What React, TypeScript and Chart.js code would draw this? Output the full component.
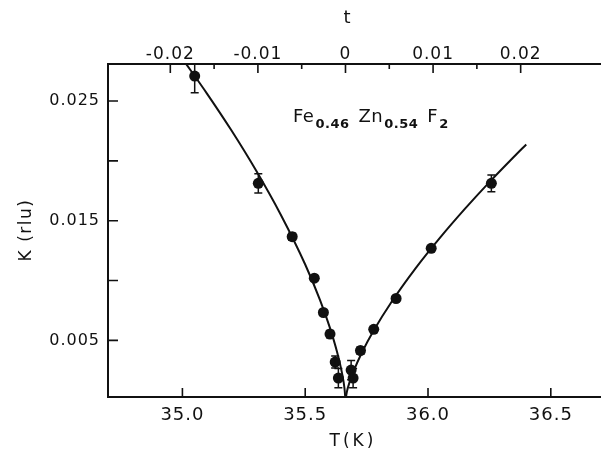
import { useEffect, useRef } from "react";
import { Chart, registerables } from "chart.js";

Chart.register(...registerables);

// ---- data ----
const criticalTemp = 35.664; // K, where t = 0
const tempRange = [34.697, 36.682];
const kappaRange = [0.00027, 0.02809];

const tempTicks = [35.0, 35.5, 36.0, 36.5];
const tempTickLabels = ["35.0", "35.5", "36.0", "36.5"];
const reducedTicks = [-0.02, -0.015, -0.01, -0.005, 0, 0.005, 0.01, 0.015, 0.02];
const reducedTickLabels = ["-0.02", "", "-0.01", "", "0", "", "0.01", "", "0.02"];
const kappaTicks = [0.005, 0.01, 0.015, 0.02, 0.025];
const kappaTickLabels = ["0.005", "", "0.015", "", "0.025"];

const measuredT = [35.05, 35.309, 35.447, 35.537, 35.574, 35.601, 35.622, 35.635, 35.687, 35.695, 35.725, 35.779, 35.87, 36.013, 36.258];
const measuredK = [0.02708, 0.01812, 0.01366, 0.0102, 0.00733, 0.00553, 0.00319, 0.00185, 0.00252, 0.00185, 0.00415, 0.00592, 0.0085, 0.01269, 0.01812];
const measuredErr = [0.0014, 0.0008, 0.0003, 0.0002, 0.0002, 0.0003, 0.0005, 0.0008, 0.0008, 0.0008, 0.0003, 0.0002, 0.0002, 0.0002, 0.0007];

const fitLowT = [35.0, 35.1, 35.2, 35.3, 35.4, 35.5, 35.56, 35.6, 35.63, 35.65, 35.66, 35.664];
const fitLowK = [0.02853, 0.02562, 0.02253, 0.01919, 0.01552, 0.01134, 0.00839, 0.00609, 0.00401, 0.00224, 0.00098, 0];
const fitHighT = [35.664, 35.67, 35.68, 35.7, 35.73, 35.78, 35.85, 35.95, 36.05, 36.15, 36.25, 36.35, 36.4];
const fitHighK = [0, 0.00074, 0.00147, 0.00258, 0.00395, 0.00586, 0.00816, 0.01103, 0.0136, 0.01598, 0.01822, 0.02034, 0.02137];

const formulaParts = [
  { text: "Fe", sub: false },
  { text: "0.46", sub: true },
  { text: "Zn", sub: false },
  { text: "0.54", sub: true },
  { text: "F", sub: false },
  { text: "2", sub: true },
];

const ink = "#111111";
const family = "'DejaVu Sans', sans-serif";

const toReduced = (T: number) => (T - criticalTemp) / criticalTemp;

const zeroPadding = (s: any) => {
  s.paddingLeft = 0;
  s.paddingRight = 0;
  s.paddingTop = 0;
  s.paddingBottom = 0;
};

const framePlugin = {
  id: "frame",
  beforeDraw(chart: any) {
    chart.ctx.letterSpacing = "1px";
  },
  afterDatasetsDraw(chart: any) {
    const { ctx, chartArea: a, scales } = chart;
    ctx.save();
    ctx.beginPath();
    ctx.rect(a.left, a.top, a.right - a.left, a.bottom - a.top);
    ctx.clip();
    ctx.strokeStyle = ink;
    ctx.lineWidth = 1.5;
    measuredT.forEach((T, i) => {
      const x = scales.x.getPixelForValue(T);
      const y1 = scales.y.getPixelForValue(measuredK[i] + measuredErr[i]);
      const y2 = scales.y.getPixelForValue(measuredK[i] - measuredErr[i]);
      ctx.beginPath();
      ctx.moveTo(x, y1);
      ctx.lineTo(x, y2);
      ctx.moveTo(x - 4, y1);
      ctx.lineTo(x + 4, y1);
      ctx.moveTo(x - 4, y2);
      ctx.lineTo(x + 4, y2);
      ctx.stroke();
    });
    ctx.restore();
  },
  afterDraw(chart: any) {
    const { ctx, chartArea: a, scales } = chart;
    const right = chart.width;
    ctx.save();
    ctx.strokeStyle = ink;
    ctx.fillStyle = ink;
    ctx.lineWidth = 2;
    ctx.beginPath();
    ctx.moveTo(a.left - 1, a.top);
    ctx.lineTo(right, a.top);
    ctx.moveTo(a.left, a.top);
    ctx.lineTo(a.left, a.bottom);
    ctx.moveTo(a.left - 1, a.bottom);
    ctx.lineTo(right, a.bottom);
    ctx.stroke();

    ctx.lineWidth = 1.6;
    ctx.beginPath();
    scales.x.ticks.forEach((tk: any) => {
      const x = scales.x.getPixelForValue(tk.value);
      ctx.moveTo(x, a.bottom);
      ctx.lineTo(x, a.bottom - 9);
    });
    scales.x2.ticks.forEach((tk: any, i: number) => {
      const x = scales.x2.getPixelForValue(tk.value);
      const len = reducedTickLabels[i] ? 9 : 5;
      ctx.moveTo(x, a.top);
      ctx.lineTo(x, a.top + len);
    });
    scales.y.ticks.forEach((tk: any) => {
      const y = scales.y.getPixelForValue(tk.value);
      ctx.moveTo(a.left, y);
      ctx.lineTo(a.left + 10, y);
    });
    ctx.stroke();

    // axis titles
    ctx.textBaseline = "middle";
    ctx.textAlign = "center";
    ctx.letterSpacing = "0px";
    ctx.font = `18px ${family}`;
    ctx.fillText("t", 347, 18);
    ctx.letterSpacing = "3px";
    ctx.font = `17px ${family}`;
    ctx.fillText("T(K)", 353, 442);
    ctx.save();
    ctx.translate(27, 230);
    ctx.rotate(-Math.PI / 2);
    ctx.letterSpacing = "1.5px";
    ctx.font = `17px ${family}`;
    ctx.fillText("K (rlu)", 0, 0);
    ctx.restore();

    // compound label
    ctx.textAlign = "left";
    ctx.textBaseline = "alphabetic";
    let x = 293;
    formulaParts.forEach((p) => {
      ctx.letterSpacing = "0.5px";
      if (p.sub) {
        ctx.font = `bold 13px ${family}`;
        ctx.fillText(p.text, x, 128);
        x += ctx.measureText(p.text).width + 9;
      } else {
        ctx.font = `18px ${family}`;
        ctx.fillText(p.text, x, 122);
        x += ctx.measureText(p.text).width + 1;
      }
    });
    ctx.restore();
    ctx.letterSpacing = "0px";
  },
};

export default function App() {
  const ref = useRef<HTMLCanvasElement>(null);
  useEffect(() => {
    const canvas = ref.current;
    if (!canvas) return;
    const chart = new Chart(canvas, {
      type: "scatter",
      data: {
        datasets: [
          {
            label: "fit below Tc",
            data: fitLowT.map((x, i) => ({ x, y: fitLowK[i] })),
            showLine: true,
            borderColor: ink,
            borderWidth: 2,
            pointRadius: 0,
            cubicInterpolationMode: "monotone",
            order: 2,
          },
          {
            label: "fit above Tc",
            data: fitHighT.map((x, i) => ({ x, y: fitHighK[i] })),
            showLine: true,
            borderColor: ink,
            borderWidth: 2,
            pointRadius: 0,
            cubicInterpolationMode: "monotone",
            order: 2,
          },
          {
            label: "kappa",
            data: measuredT.map((x, i) => ({ x, y: measuredK[i] })),
            showLine: false,
            pointRadius: 5.5,
            pointBackgroundColor: ink,
            pointBorderWidth: 0,
            order: 1,
          },
        ],
      },
      options: {
        animation: false,
        responsive: false,
        devicePixelRatio: 1,
        layout: { padding: 0 },
        plugins: { legend: { display: false }, tooltip: { enabled: false } },
        scales: {
          x: {
            type: "linear",
            position: "bottom",
            min: tempRange[0],
            max: tempRange[1],
            afterBuildTicks: (s: any) => {
              s.ticks = tempTicks.map((value) => ({ value }));
            },
            afterFit: (s: any) => {
              s.height = 58;
              zeroPadding(s);
            },
            grid: { display: false, drawTicks: false },
            border: { display: false },
            ticks: {
              autoSkip: false,
              maxRotation: 0,
              padding: 9,
              color: ink,
              font: { family, size: 18, lineHeight: 1 },
              callback: (_v: any, i: number) => tempTickLabels[i],
            },
          },
          x2: {
            type: "linear",
            axis: "x",
            position: "top",
            min: toReduced(tempRange[0]),
            max: toReduced(tempRange[1]),
            afterBuildTicks: (s: any) => {
              s.ticks = reducedTicks.map((value) => ({ value }));
            },
            afterFit: (s: any) => {
              s.height = 64;
              zeroPadding(s);
            },
            grid: { display: false, drawTicks: false },
            border: { display: false },
            ticks: {
              autoSkip: false,
              maxRotation: 0,
              padding: 1,
              color: ink,
              font: { family, size: 17, lineHeight: 1 },
              callback: (_v: any, i: number) => reducedTickLabels[i],
            },
          },
          y: {
            type: "linear",
            min: kappaRange[0],
            max: kappaRange[1],
            afterBuildTicks: (s: any) => {
              s.ticks = kappaTicks.map((value) => ({ value }));
            },
            afterFit: (s: any) => {
              s.width = 108;
              zeroPadding(s);
            },
            grid: { display: false, drawTicks: false },
            border: { display: false },
            ticks: {
              autoSkip: false,
              padding: 8,
              color: ink,
              font: { family, size: 16, lineHeight: 1 },
              callback: (_v: any, i: number) => kappaTickLabels[i],
            },
          },
        },
      } as any,
      plugins: [framePlugin],
    });
    return () => chart.destroy();
  }, []);
  return (
    <div style={{ position: "fixed", left: 0, top: 0, width: 601, height: 455, background: "#fff" }}>
      <canvas ref={ref} width={601} height={455} />
    </div>
  );
}
